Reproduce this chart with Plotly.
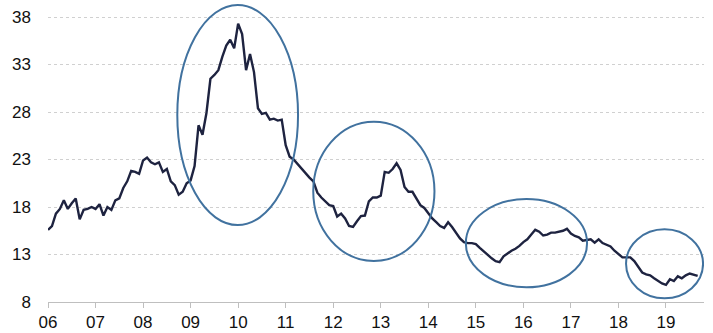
import plotly.graph_objects as go

# Monthly values, Jan 2006 .. Sep 2019
values = [
    15.6, 16.0, 17.3, 17.8, 18.7, 17.8, 18.4, 18.9, 16.7, 17.7, 17.8, 18.0,
    17.8, 18.3, 17.1, 18.0, 17.7, 18.7, 18.9, 20.0, 20.7, 21.8, 21.7, 21.5,
    22.9, 23.2, 22.7, 22.5, 22.7, 21.7, 22.0, 20.7, 20.3, 19.3, 19.6, 20.5,
    20.8, 22.3, 26.6, 25.6, 27.9, 31.5, 31.9, 32.4, 33.8, 35.0, 35.6, 34.7,
    37.3, 36.2, 32.4, 34.1, 32.2, 28.4, 27.8, 27.9, 27.2, 27.3, 27.1, 27.2,
    24.5, 23.3, 23.0, 22.5, 22.0, 21.6, 21.1, 20.7, 19.5, 19.0, 18.6, 18.2,
    18.1, 17.0, 17.3, 16.8, 16.0, 15.9, 16.5, 17.05, 17.1, 18.6, 19.0, 19.0,
    19.2, 21.7, 21.6, 22.0, 22.6, 21.9, 20.1, 19.6, 19.6, 18.9, 18.2, 17.9,
    17.3, 16.8, 16.4, 16.0, 15.8, 16.4, 15.9, 15.3, 14.7, 14.3, 14.2, 14.2,
    14.1, 13.7, 13.3, 12.9, 12.6, 12.3, 12.2, 12.8, 13.1, 13.4, 13.6, 13.9,
    14.3, 14.6, 15.1, 15.6, 15.4, 15.0, 15.1, 15.3, 15.3, 15.4, 15.5, 15.7,
    15.2, 14.95, 14.8, 14.45, 14.5, 14.6, 14.25, 14.6, 14.2, 14.05, 13.85, 13.4,
    13.0, 12.7, 12.7, 12.7, 12.3, 11.7, 11.1, 10.9, 10.8, 10.5, 10.2, 9.95,
    9.8, 10.4, 10.2, 10.7, 10.5, 10.8, 11.0, 10.85, 10.75,
]
start_year = 2006
x_years = [start_year + i / 12 for i in range(len(values))]

year_ticks = list(range(2006, 2020))
year_labels = [f"{y % 100:02d}" for y in year_ticks]
y_ticks = [8, 13, 18, 23, 28, 33, 38]

# Highlight ellipses: (x0, x1, y0, y1) in data units
ellipses = [
    (2008.72, 2011.26, 16.1, 39.26),
    (2011.58, 2014.13, 12.32, 26.98),
    (2014.79, 2017.34, 9.55, 18.84),
    (2018.16, 2019.78, 8.39, 15.65),
]

line_color = "#1E2340"
ell_color = "#41729F"

fig = go.Figure()
fig.add_trace(go.Scatter(
    x=x_years, y=values, mode="lines",
    line=dict(color=line_color, width=2.4),
    hoverinfo="skip", showlegend=False,
))

for (x0, x1, y0, y1) in ellipses:
    fig.add_shape(type="circle", xref="x", yref="y",
                  x0=x0, x1=x1, y0=y0, y1=y1,
                  line=dict(color=ell_color, width=2),
                  fillcolor="rgba(0,0,0,0)", layer="above")

font = dict(family="Liberation Sans, Arial, sans-serif", size=17, color="#111111")

fig.update_layout(
    width=713, height=333,
    margin=dict(l=48, r=9, t=0, b=31),
    paper_bgcolor="white", plot_bgcolor="white",
    font=font,
    showlegend=False,
)
fig.update_xaxes(
    range=[2006, 2019.8],
    tickvals=year_ticks, ticktext=year_labels,
    showgrid=False, zeroline=False,
    showline=True, linecolor="#BFBFBF", linewidth=1,
    ticks="outside", ticklen=5, tickcolor="#BFBFBF",
    tickfont=font,
)
fig.update_yaxes(
    range=[8, 39.79],
    tickvals=y_ticks,
    showgrid=True, gridcolor="#D0D0D0", griddash="dot", gridwidth=1,
    zeroline=False, showline=False, ticks="",
    ticklabelstandoff=16,
    tickfont=font,
)

fig.write_html("out.html")
